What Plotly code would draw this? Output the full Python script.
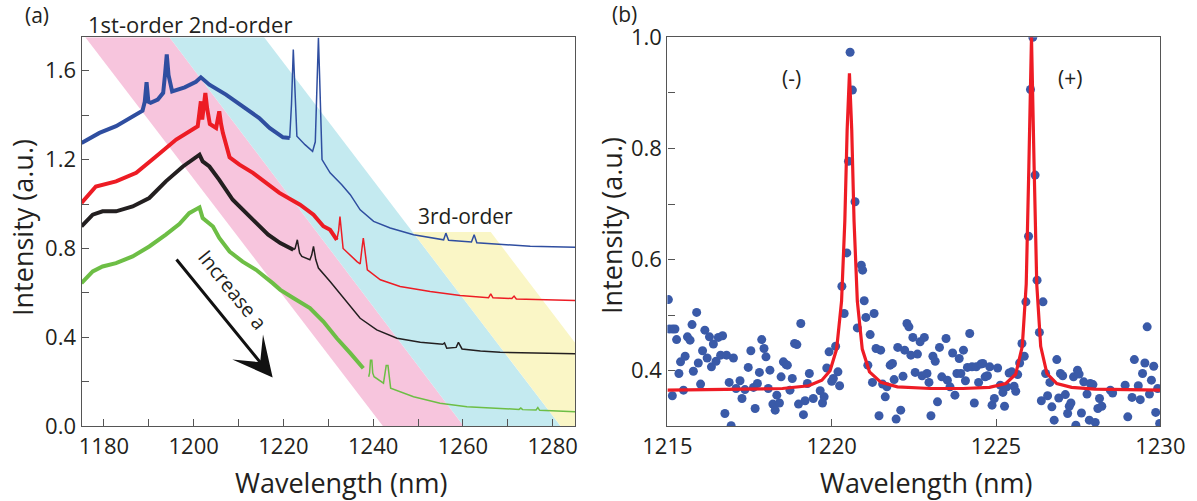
import numpy as np
import plotly.graph_objects as go

# ---------------- Panel (a): spectra ----------------
blue_x = [1175.0, 1179.0, 1182.7, 1186.4, 1188.6, 1189.1, 1189.5, 1189.9, 1190.4, 1192.0, 1193.2, 1193.6,
          1194.0, 1194.4, 1195.2, 1198.0, 1200.5, 1201.6, 1203.5, 1207.2, 1211.7, 1214.6, 1216.9, 1219.9,
          1221.4, 1221.8, 1222.2, 1222.6, 1223.0, 1224.8, 1226.5, 1227.1, 1227.5, 1227.8, 1228.1, 1228.6,
          1230.4, 1233.0, 1234.9, 1237.1, 1240.1, 1243.8, 1249.0, 1253.0, 1255.7, 1256.2, 1256.8, 1261.9,
          1262.5, 1263.1, 1268.3, 1275.0, 1285.0]
blue_y = [1.275, 1.32, 1.35, 1.395, 1.42, 1.46, 1.548, 1.46, 1.455, 1.47, 1.50, 1.58,
          1.673, 1.58, 1.507, 1.525, 1.55, 1.57, 1.537, 1.492, 1.425, 1.387, 1.342, 1.30,
          1.297, 1.45, 1.695, 1.45, 1.305, 1.267, 1.237, 1.28, 1.55, 1.748, 1.55, 1.20,
          1.14, 1.087, 1.042, 0.974, 0.922, 0.892, 0.862, 0.848, 0.839, 0.869, 0.837, 0.829,
          0.862, 0.826, 0.818, 0.810, 0.805]

red_x = [1175.0, 1178.2, 1182.7, 1187.2, 1191.6, 1196.1, 1200.9, 1201.3, 1201.6, 1201.9, 1202.2, 1202.6,
         1203.0, 1203.6, 1205.0, 1205.4, 1205.7, 1206.1, 1206.5, 1208.0, 1210.2, 1213.2, 1216.1, 1219.1,
         1223.7, 1226.7, 1228.9, 1230.4, 1231.9, 1232.3, 1232.6, 1232.9, 1233.3, 1236.4, 1237.1, 1237.5,
         1237.8, 1238.1, 1238.7, 1241.6, 1246.0, 1252.7, 1259.4, 1265.7, 1266.2, 1266.7, 1270.9, 1271.4,
         1271.9, 1285.0]
red_y = [1.005, 1.079, 1.102, 1.14, 1.214, 1.29, 1.35, 1.40, 1.462, 1.38, 1.42, 1.50,
         1.43, 1.36, 1.342, 1.38, 1.417, 1.36, 1.32, 1.21, 1.177, 1.14, 1.095, 1.05,
         0.997, 0.952, 0.90, 0.884, 0.839, 0.88, 0.944, 0.88, 0.80, 0.741, 0.73, 0.80,
         0.847, 0.80, 0.704, 0.659, 0.629, 0.606, 0.588, 0.578, 0.596, 0.578, 0.575, 0.586,
         0.573, 0.566]

black_x = [1175.0, 1177.5, 1179.7, 1182.7, 1186.4, 1190.1, 1193.8, 1197.6, 1201.3, 1202.0, 1203.5, 1205.7,
           1208.7, 1211.7, 1214.6, 1216.6, 1219.3, 1222.2, 1222.6, 1223.1, 1223.6, 1224.1, 1225.9, 1226.3,
           1226.7, 1227.2, 1227.8, 1230.4, 1234.1, 1237.1, 1240.8, 1245.3, 1250.5, 1255.5, 1255.9, 1256.4,
           1258.5, 1259.0, 1259.8, 1263.9, 1268.3, 1285.0]
black_y = [0.899, 0.952, 0.967, 0.967, 0.989, 1.027, 1.102, 1.169, 1.222, 1.192, 1.169, 1.109,
           1.019, 0.959, 0.899, 0.862, 0.824, 0.794, 0.80, 0.839, 0.78, 0.764, 0.749, 0.77,
           0.809, 0.75, 0.712, 0.651, 0.561, 0.486, 0.434, 0.396, 0.378, 0.369, 0.375, 0.351,
           0.355, 0.378, 0.348, 0.339, 0.333, 0.326]

green_x = [1175.0, 1177.5, 1179.7, 1182.7, 1186.4, 1190.1, 1193.8, 1196.8, 1199.0, 1201.3, 1202.0, 1204.3,
           1205.7, 1208.0, 1210.9, 1213.9, 1217.6, 1219.3, 1222.2, 1225.9, 1228.9, 1231.9, 1234.9, 1237.8,
           1239.0, 1239.2, 1239.4, 1239.7, 1239.9, 1240.2, 1242.3, 1242.7, 1242.9, 1243.3, 1243.5, 1243.9,
           1249.0, 1254.9, 1260.9, 1266.8, 1272.5, 1272.9, 1273.3, 1276.3, 1276.7, 1277.1, 1285.0]
green_y = [0.644, 0.697, 0.719, 0.734, 0.764, 0.809, 0.862, 0.91, 0.959, 0.985, 0.937, 0.899,
           0.847, 0.786, 0.741, 0.704, 0.644, 0.614, 0.577, 0.532, 0.471, 0.396, 0.329, 0.261,
           0.223, 0.24, 0.297, 0.297, 0.24, 0.223, 0.194, 0.24, 0.273, 0.273, 0.24, 0.171,
           0.133, 0.104, 0.088, 0.081, 0.076, 0.082, 0.075, 0.073, 0.084, 0.072, 0.066]

# wavelength where each noisy (thick) trace turns into the thin tail
split_at = {"blue": 1221.4, "red": 1231.9, "black": 1222.2, "green": 1238.5}

# shaded order bands (corner wavelength / intensity)
band_pink = [(1175.85, 1.75), (1194.6, 1.75), (1260.2, 0.0), (1242.2, 0.0)]
band_cyan = [(1194.6, 1.75), (1215.7, 1.75), (1281.8, 0.0), (1260.2, 0.0)]
band_yellow = [(1248.8, 0.874), (1266.2, 0.874), (1299.2, 0.0), (1281.8, 0.0)]

# ---------------- Panel (b): measured points and fit ----------------
pts_x = [1215.03, 1215.05, 1215.15, 1215.23, 1215.15, 1215.28, 1215.35, 1215.40, 1215.49, 1215.54, 1215.61,
         1215.69, 1215.75, 1215.79, 1215.89, 1215.94, 1216.01, 1216.07, 1216.14, 1216.21, 1216.28, 1216.34,
         1216.40, 1216.48, 1216.55, 1216.62, 1216.68, 1216.75, 1216.80, 1216.88, 1216.94, 1217.01, 1217.09,
         1217.21, 1217.27, 1217.36, 1217.46, 1217.54, 1217.62, 1217.67, 1217.74, 1217.80, 1217.87, 1217.94,
         1218.00, 1218.07, 1218.12, 1218.21, 1218.28, 1218.33, 1218.41, 1218.46, 1218.53, 1218.61, 1218.65,
         1218.73, 1218.80, 1218.87, 1218.94, 1218.99, 1219.06, 1219.14, 1219.19, 1219.26, 1219.32, 1219.44,
         1219.65, 1219.72, 1219.77, 1219.85, 1219.92, 1220.00, 1220.05, 1220.12, 1220.19, 1220.24, 1220.31,
         1220.38, 1220.46, 1220.78,
         1220.56, 1220.63, 1220.51, 1220.71,
         1220.90, 1220.94, 1220.99, 1221.04, 1221.17, 1221.29, 1221.10, 1221.35, 1221.49, 1221.24, 1221.55,
         1221.68, 1221.63, 1221.44, 1221.78, 1221.85, 1221.90, 1221.96, 1222.01, 1222.10, 1222.17, 1222.22,
         1222.29, 1222.35, 1222.41, 1222.47, 1222.54, 1222.61, 1222.69, 1222.75, 1222.82, 1222.90, 1222.96,
         1223.02, 1223.08, 1223.15, 1223.22, 1223.28, 1223.35, 1223.48, 1223.52, 1223.60, 1223.68, 1223.75,
         1223.81, 1223.88, 1223.93, 1224.01, 1224.07, 1224.13, 1224.20, 1224.27, 1224.34, 1224.40, 1224.47,
         1224.54, 1224.60, 1224.67, 1224.74, 1224.81, 1224.88, 1224.95, 1225.05, 1225.13, 1225.21, 1225.26,
         1225.33, 1225.40, 1225.48, 1225.55, 1225.60, 1225.66, 1225.72, 1225.79, 1225.86, 1225.91, 1225.99,
         1226.12, 1226.05, 1226.19,
         1226.25, 1226.32, 1226.43, 1226.51, 1226.38, 1226.57, 1226.64, 1226.70, 1226.77, 1226.85, 1226.91,
         1226.96, 1227.03, 1227.11, 1227.18, 1227.23, 1227.28, 1227.36, 1227.43, 1227.48, 1227.53, 1227.60,
         1227.67,
         1227.77, 1227.87, 1227.95, 1227.84, 1228.02, 1228.15, 1228.10, 1228.22, 1228.48, 1228.55, 1228.93,
         1229.01, 1229.14, 1229.21, 1229.33, 1229.39, 1229.46, 1229.53, 1229.60, 1229.67, 1229.73, 1229.80,
         1229.86, 1229.92, 1229.98]
pts_y = [0.528, 0.475, 0.475, 0.475, 0.355, 0.456, 0.395, 0.416, 0.365, 0.426, 0.461,
         0.455, 0.483, 0.399, 0.505, 0.414, 0.376, 0.436, 0.473, 0.423, 0.461, 0.407,
         0.448, 0.417, 0.460, 0.428, 0.463, 0.323, 0.428, 0.379, 0.301, 0.423, 0.368,
         0.382, 0.350, 0.366, 0.406, 0.436, 0.370, 0.332, 0.377, 0.397, 0.456, 0.440,
         0.425, 0.368, 0.401, 0.340, 0.329, 0.356, 0.342, 0.389, 0.416, 0.411, 0.410,
         0.365, 0.386, 0.449, 0.447, 0.340, 0.485, 0.321, 0.346, 0.377, 0.395, 0.350,
         0.364, 0.342, 0.353, 0.405, 0.434, 0.381, 0.386, 0.444, 0.398, 0.373, 0.552,
         0.503, 0.612, 0.477,
         0.973, 0.905, 0.777, 0.704,
         0.590, 0.581, 0.526, 0.496, 0.465, 0.503, 0.410, 0.440, 0.437, 0.379, 0.376,
         0.371, 0.353, 0.319, 0.410, 0.413, 0.384, 0.313, 0.442, 0.329, 0.390, 0.437,
         0.485, 0.479, 0.428, 0.460, 0.397, 0.430, 0.452, 0.391, 0.460, 0.395, 0.379,
         0.319, 0.426, 0.417, 0.344, 0.442, 0.389, 0.458, 0.383, 0.371, 0.432, 0.356,
         0.395, 0.422, 0.395, 0.437, 0.382, 0.406, 0.467, 0.407, 0.342, 0.407, 0.379,
         0.412, 0.413, 0.389, 0.391, 0.407, 0.338, 0.350, 0.405, 0.374, 0.361, 0.336,
         0.371, 0.396, 0.398, 0.372, 0.363, 0.393, 0.414, 0.449, 0.426, 0.524, 0.642,
         1.000, 0.906, 0.752,
         0.563, 0.469, 0.524, 0.395, 0.346, 0.355, 0.379, 0.335, 0.311, 0.420, 0.351,
         0.395, 0.391, 0.357, 0.323, 0.336, 0.342, 0.389, 0.302, 0.401, 0.394, 0.324,
         0.380,
         0.358, 0.377, 0.375, 0.311, 0.307, 0.350, 0.332, 0.336, 0.365, 0.360, 0.374,
         0.317, 0.352, 0.420, 0.373, 0.348, 0.395, 0.414, 0.479, 0.358, 0.383, 0.408,
         0.325, 0.368, 0.305]

fit_x = [1215.0, 1217.0, 1218.5, 1219.3, 1219.7, 1219.95, 1220.15, 1220.3, 1220.4, 1220.47, 1220.54,
         1220.61, 1220.68, 1220.78, 1220.93, 1221.15, 1221.5, 1222.0, 1223.0, 1224.0, 1224.8, 1225.3,
         1225.6, 1225.8, 1225.92, 1226.0, 1226.08, 1226.16, 1226.24, 1226.36, 1226.55, 1226.85, 1227.3,
         1228.0, 1229.0, 1230.0]
fit_y = [0.365, 0.366, 0.368, 0.373, 0.383, 0.400, 0.439, 0.525, 0.670, 0.833, 0.935,
         0.833, 0.670, 0.525, 0.439, 0.398, 0.379, 0.371, 0.368, 0.368, 0.370, 0.377,
         0.394, 0.444, 0.556, 0.767, 1.000, 0.767, 0.556, 0.444, 0.395, 0.377, 0.370,
         0.367, 0.366, 0.365]

left_xticks = list(range(1180, 1281, 10))
left_xlabels = [str(v) if v % 20 == 0 else "" for v in left_xticks]
left_yticks = [0.0, 0.2, 0.4, 0.6, 0.8, 1.0, 1.2, 1.4, 1.6]
left_ylabels = ["0.0", "", "0.4", "", "0.8", "", "1.2", "", "1.6"]
right_xticks = [1215, 1220, 1225, 1230]
right_yticks = [0.3, 0.4, 0.5, 0.6, 0.7, 0.8, 0.9, 1.0]
right_ylabels = ["", "0.4", "", "0.6", "", "0.8", "", "1.0"]

# ---------------- styling ----------------
FONT = "Open Sans"
TXT = "#231F20"
COLORS = {"blue": "#2F4EA0", "red": "#ED1C24", "black": "#231F20", "green": "#6DBE45"}
PINK, CYAN, YELLOW = "#F7C5DD", "#C4EAF0", "#FAF6C6"

W, H = 1197, 501
L_DOM = [81.5 / W, 575.1 / W]
R_DOM = [667.4 / W, 1160.3 / W]
Y_DOM = [1 - 426.3 / H, 1 - 37.3 / H]

fig = go.Figure()

series = {"blue": (blue_x, blue_y), "red": (red_x, red_y),
          "black": (black_x, black_y), "green": (green_x, green_y)}
for name, (xs, ys) in series.items():
    xs = np.array(xs)
    ys = np.array(ys)
    cut = split_at[name]
    thick = xs <= cut
    thin = xs >= cut
    fig.add_trace(go.Scatter(x=xs[thick], y=ys[thick], mode="lines", xaxis="x", yaxis="y",
                             line=dict(color=COLORS[name], width=4.0), showlegend=False,
                             hoverinfo="skip"))
    fig.add_trace(go.Scatter(x=xs[thin], y=ys[thin], mode="lines", xaxis="x", yaxis="y",
                             line=dict(color=COLORS[name], width=1.5), showlegend=False,
                             hoverinfo="skip"))

fig.add_trace(go.Scatter(x=pts_x, y=pts_y, mode="markers", xaxis="x2", yaxis="y2",
                         marker=dict(color="#3A5AA8", size=9, line=dict(width=0)),
                         showlegend=False, cliponaxis=True))
fig.add_trace(go.Scatter(x=fit_x, y=fit_y, mode="lines", xaxis="x2", yaxis="y2",
                         line=dict(color="#EE1C25", width=3.2), showlegend=False))


def band_path(corners):
    return "M " + " L ".join(f"{x},{y}" for x, y in corners) + " Z"


shapes = []
for corners, col in [(band_pink, PINK), (band_cyan, CYAN), (band_yellow, YELLOW)]:
    shapes.append(dict(type="path", path=band_path(corners), xref="x", yref="y",
                       fillcolor=col, line=dict(width=0), layer="below"))

axis_common = dict(showline=True, linecolor="#555", linewidth=1.2, mirror=True,
                   ticks="inside", ticklen=7, tickwidth=1.2, tickcolor="#555",
                   showgrid=False, zeroline=False, automargin=False,
                   tickfont=dict(family=FONT, size=22, color=TXT))

fig.update_layout(
    template="none",
    width=W, height=H,
    margin=dict(l=0, r=0, t=0, b=0, autoexpand=False),
    paper_bgcolor="white", plot_bgcolor="white",
    showlegend=False,
    xaxis=dict(domain=L_DOM, range=[1175, 1285], tickmode="array", tickvals=left_xticks,
               ticktext=left_xlabels, anchor="y", **axis_common),
    yaxis=dict(domain=Y_DOM, range=[0, 1.75], tickmode="array", tickvals=left_yticks,
               ticktext=left_ylabels, anchor="x", **axis_common),
    xaxis2=dict(domain=R_DOM, range=[1215, 1230], tickmode="array", tickvals=right_xticks,
                ticktext=[str(v) for v in right_xticks], anchor="y2", **axis_common),
    yaxis2=dict(domain=Y_DOM, range=[0.3, 1.0], tickmode="array", tickvals=right_yticks,
                ticktext=right_ylabels, anchor="x2", **axis_common),
    shapes=shapes,
)


def ann(text, x, y, size, xref="paper", yref="paper", angle=0, xanchor="center", yanchor="middle"):
    fig.add_annotation(text=text, x=x, y=y, xref=xref, yref=yref, showarrow=False,
                       textangle=angle, xanchor=xanchor, yanchor=yanchor,
                       font=dict(family=FONT, size=size, color=TXT))


ann("Wavelength (nm)", 340.6 / W, 1 - 482 / H, 27)
ann("Wavelength (nm)", 926 / W, 1 - 482 / H, 27)
ann("Intensity (a.u.)", 22 / W, 1 - 228 / H, 27, angle=-90)
ann("Intensity (a.u.)", 612 / W, 1 - 226 / H, 27, angle=-90)
ann("(a)", 37 / W, 1 - 15 / H, 21)
ann("(b)", 624 / W, 1 - 14 / H, 21)
ann("1st-order 2nd-order", 86 / W, 1 - 24 / H, 22, xanchor="left")
ann("3rd-order", 1260.5, 0.947, 21, xref="x", yref="y")
ann("(-)", 1218.79, 0.926, 21, xref="x2", yref="y2")
ann("(+)", 1227.26, 0.926, 21, xref="x2", yref="y2")
ann("Increase a", 1208.6, 0.614, 20, xref="x", yref="y", angle=51)

fig.add_annotation(x=1217.6, y=0.219, ax=1195.9, ay=0.757, xref="x", yref="y", axref="x", ayref="y",
                   showarrow=True, arrowhead=3, arrowsize=2.2, arrowwidth=3, arrowcolor="#111",
                   text="")

fig.write_html("out.html", config={"responsive": False, "displayModeBar": False},
               post_script="document.body.style.margin='0px';document.body.style.overflow='hidden';")
